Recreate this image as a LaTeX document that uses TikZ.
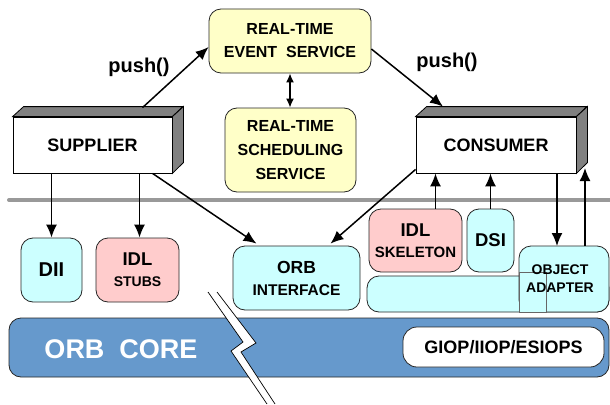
\documentclass[tikz,border=0pt]{standalone}
\usepackage{fontspec}
\setmainfont{Liberation Sans}
\usetikzlibrary{arrows.meta}

\definecolor{svcyellow}{HTML}{FFFFC8}
\definecolor{ifcyan}{HTML}{CCFFFF}
\definecolor{stubpink}{HTML}{FFCCCC}
\definecolor{coreblue}{HTML}{6699CC}
\definecolor{cubegray}{HTML}{808080}
\definecolor{busgray}{HTML}{999999}

\newcommand\fsz[2]{\fontsize{#1}{#2}\selectfont}

\begin{document}
\begin{tikzpicture}[
  x=1pt, y=-1pt,
  font=\bfseries,
  every node/.style={align=center, inner sep=0pt},
  rbox/.style={draw=black!85, line width=0.8pt, rounded corners=12pt},
  cube/.style={draw, fill=white, line width=0.8pt},
  arr/.style={-{Latex[length=13pt,width=11pt]}, line width=1.5pt},
  darr/.style={{Latex[length=9pt,width=8pt]}-{Latex[length=9pt,width=8pt]}, line width=1.5pt},
]
  \useasboundingbox[fill=white] (0,0) rectangle (610,404);

  % bus line
  \draw[busgray, line width=4pt, line cap=round] (9,200) -- (610,200);

  % services
  \node[rbox, fill=svcyellow, minimum width=162pt, minimum height=64pt,
        font=\bfseries\fsz{16}{23}] (evt) at (290,41) {REAL-TIME\\EVENT\ \ SERVICE};
  \node[rbox, fill=svcyellow, minimum width=131pt, minimum height=84pt,
        font=\bfseries\fsz{16}{24}] (sched) at (290.5,150) {REAL-TIME\\SCHEDULING\\SERVICE};

  % supplier / consumer
  \node[cube, minimum width=159pt, minimum height=56pt, font=\bfseries\fsz{18}{20}]
    (sup) at (92.5,145) {SUPPLIER};
  \draw[fill=cubegray, line width=0.8pt] (sup.north west) -- ++(11,-10) -- ++(159,0) -- (sup.north east) -- cycle;
  \draw[fill=cubegray, line width=0.8pt] (sup.north east) -- ++(11,-10) -- ++(0,56) -- (sup.south east) -- cycle;

  \node[cube, minimum width=160pt, minimum height=56pt, font=\bfseries\fsz{18}{20}]
    (con) at (496,145) {CONSUMER};
  \draw[fill=cubegray, line width=0.8pt] (con.north west) -- ++(11,-10) -- ++(160,0) -- (con.north east) -- cycle;
  \draw[fill=cubegray, line width=0.8pt] (con.north east) -- ++(11,-10) -- ++(0,56) -- (con.south east) -- cycle;

  \node[font=\bfseries\fsz{20}{22}] (pushl) at (139,67) {push()};
  \node[font=\bfseries\fsz{20}{22}] (pushr) at (447,62) {push()};

  % client side
  \node[rbox, fill=ifcyan, minimum width=61pt, minimum height=64pt, font=\bfseries\fsz{20}{22}]
    (dii) at (51.5,270) {DII};
  \node[rbox, fill=stubpink, minimum width=83pt, minimum height=64pt, font=\bfseries\fsz{14}{21}]
    (stubs) at (137.5,270) {{\fsz{18.5}{21}IDL}\\STUBS};
  \node[rbox, fill=ifcyan, minimum width=127pt, minimum height=64pt, font=\bfseries\fsz{15.5}{22}]
    (orbi) at (296.5,278) {{\fsz{17.5}{22}ORB}\\INTERFACE};

  % server side
  \draw[rbox, fill=ifcyan] (367,276) rectangle (609,312);
  \draw[rbox, fill=ifcyan] (519,246) rectangle (609,312);
  \draw[black!60, fill=ifcyan, line width=0.8pt] (519,272) rectangle (546,312);
  \node[font=\bfseries\fsz{14}{18}] (adapt) at (560,279) {OBJECT\\ADAPTER};
  \node[rbox, fill=stubpink, minimum width=93pt, minimum height=63pt, font=\bfseries\fsz{15}{21}]
    (skel) at (415.5,240.5) {{\fsz{18.5}{21}IDL}\\SKELETON};
  \node[rbox, fill=ifcyan, minimum width=47pt, minimum height=63pt, font=\bfseries\fsz{18.5}{21}]
    (dsi) at (490.5,240.5) {DSI};

  % orb core
  \node[rbox, fill=coreblue, minimum width=600pt, minimum height=59pt] (core) at (309,347.5) {};
  \node[text=white, font=\bfseries\fsz{27}{29}] (coretxt) at (121,349) {ORB\ \ CORE};
  \node[rbox, rounded corners=14pt, fill=white, minimum width=201pt, minimum height=40pt,
        font=\bfseries\fsz{18}{20}] (giop) at (503.5,347) {GIOP/IIOP/ESIOPS};

  % break mark
  \fill[white] (208,292) -- (243,342) -- (231,351) -- (267,404) -- (275,404) -- (241,352) -- (256,343) -- (217,292) -- cycle;
  \draw[line width=0.7pt] (208,292) -- (243,342) -- (231,351) -- (267,404);
  \draw[line width=0.7pt] (217,292) -- (256,343) -- (241,352) -- (275,404);

  % arrows
  \draw[arr] ([xshift=50pt,yshift=9pt]sup.north) -- ([yshift=-6pt]evt.west);
  \draw[arr] ([yshift=-8pt]evt.east) -- ([xshift=-53pt,yshift=10pt]con.north);
  \draw[darr] (evt.south) -- (evt.south |- sched.north);
  \draw[arr] (sup.south -| dii.north) -- (dii.north);
  \draw[arr] ([xshift=2pt]sup.south -| stubs.north) -- ([xshift=2pt]stubs.north);
  \draw[arr] ([xshift=60pt]sup.south) -- ([xshift=-40pt,yshift=2pt]orbi.north);
  \draw[arr] ([yshift=4pt]con.south west) -- ([xshift=34pt,yshift=2pt]orbi.north);
  \draw[arr] ([xshift=20pt]skel.north) -- ([xshift=20pt]skel.north |- con.south);
  \draw[arr] (dsi.north) -- (dsi.north |- con.south);
  \draw[arr] (con.south -| 557,0) -- (557,246);
  \draw[arr] (585,246) -- (585,168);
\end{tikzpicture}
\end{document}
